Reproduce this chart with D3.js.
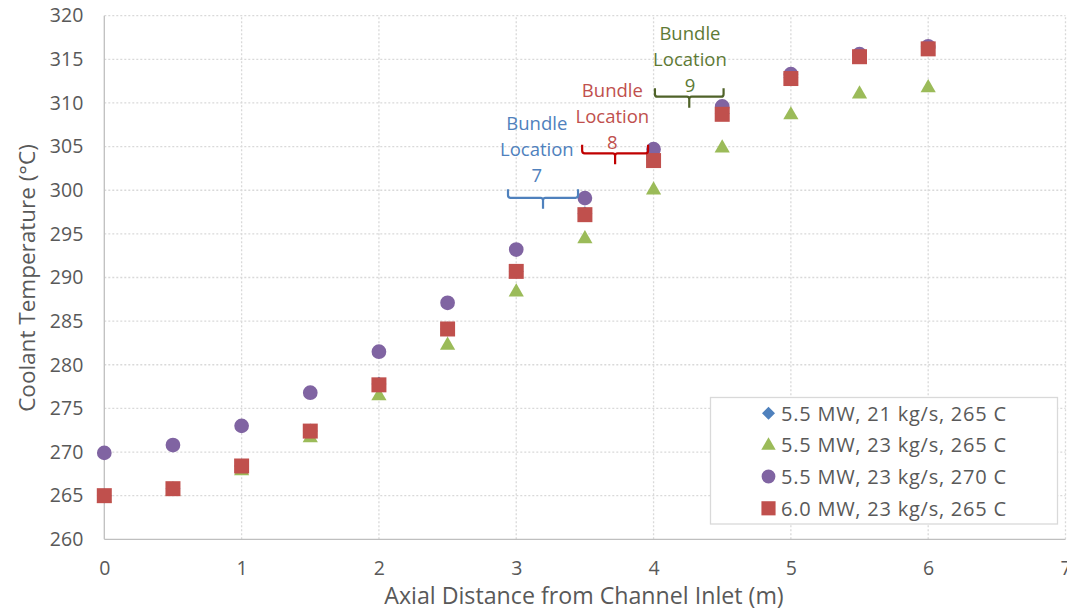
<!DOCTYPE html>
<html>
<head>
<meta charset="utf-8">
<script src="https://cdn.jsdelivr.net/npm/d3@7"></script>
<style>
  html, body { margin: 0; padding: 0; background: #fff; }
  svg { display: block; }
  text { font-family: "Open Sans", Lato, sans-serif; }
</style>
</head>
<body>
<svg id="chart" width="1067" height="611"></svg>
<script>
// Axial positions along the fuel channel (m)
const distance = [0, 0.5, 1, 1.5, 2, 2.5, 3, 3.5, 4, 4.5, 5, 5.5, 6];

// Coolant temperature (°C) for each operating case
const case21kg265 = [265.0, 265.8, 268.4, 272.4, 277.8, 284.1, 290.7, 297.3, 303.5, 308.8, 312.9, 315.4, 316.3];
const case23kg265 = [264.9, 265.7, 268.0, 271.8, 276.6, 282.4, 288.5, 294.6, 300.2, 305.0, 308.8, 311.2, 311.9];
const case23kg270 = [269.9, 270.8, 273.0, 276.8, 281.5, 287.1, 293.2, 299.1, 304.7, 309.6, 313.3, 315.6, 316.5];
const case60MW = [265.0, 265.8, 268.4, 272.4, 277.7, 284.1, 290.7, 297.2, 303.4, 308.7, 312.8, 315.3, 316.2];

const seriesNames = [
  "5.5 MW, 21 kg/s, 265 C",
  "5.5 MW, 23 kg/s, 265 C",
  "5.5 MW, 23 kg/s, 270 C",
  "6.0 MW, 23 kg/s, 265 C"
];
const seriesColors = ["#4F81BD", "#9BBB59", "#8064A2", "#C0504D"];
const seriesShapes = ["diamond", "triangle", "circle", "square"];

// Axis ticks
const xTicks = [0, 1, 2, 3, 4, 5, 6, 7];
const yTicks = [260, 265, 270, 275, 280, 285, 290, 295, 300, 305, 310, 315, 320];

// Fuel bundle annotations: brace span along the channel, brace height, label position
const bundleLabels = ["7", "8", "9"];
const bundleStart = [2.94, 3.48, 4.01];
const bundleEnd = [3.45, 3.96, 4.51];
const bundleLevel = [300.1, 305.2, 311.7];
const bundleLabelX = [3.15, 3.70, 4.265];
const bundleLabelY = [307.7, 311.4, 318.0];
const bundleColors = ["#4F81BD", "#C00000", "#4F6228"];
const bundleTextColors = ["#4F81BD", "#C0504D", "#5E7A35"];

const svg = d3.select("#chart");
const W = 1067, H = 611;
const margin = { left: 104.3, right: W - 1065.5, top: 15.7, bottom: H - 539.3 };

const x = d3.scaleLinear().domain([0, 7]).range([margin.left, W - margin.right]);
const y = d3.scaleLinear().domain([260, 320]).range([H - margin.bottom, margin.top]);

// Dotted gridlines
const grid = svg.append("g");
grid.selectAll("line.h").data(yTicks.filter(d => d > 260)).join("line")
  .attr("x1", x(0)).attr("x2", x(7))
  .attr("y1", d => y(d)).attr("y2", d => y(d))
  .attr("stroke", "#D9D9D9").attr("stroke-width", 1.3).attr("stroke-dasharray", "2,2");
grid.selectAll("line.v").data(xTicks.filter(d => d > 0)).join("line")
  .attr("y1", y(260)).attr("y2", y(320))
  .attr("x1", d => x(d)).attr("x2", d => x(d))
  .attr("stroke", "#D9D9D9").attr("stroke-width", 1.3).attr("stroke-dasharray", "2,2");

// Axes
const xAxis = d3.axisBottom(x).tickValues(xTicks).tickSize(0).tickPadding(22).tickFormat(d3.format("d"));
const yAxis = d3.axisLeft(y).tickValues(yTicks).tickSize(0).tickPadding(21).tickFormat(d3.format("d"));

const gx = svg.append("g").attr("transform", `translate(0,${y(260)})`).call(xAxis);
const gy = svg.append("g").attr("transform", `translate(${x(0)},0)`).call(yAxis);
[gx, gy].forEach(g => {
  g.select(".domain").attr("stroke", "#BFBFBF").attr("stroke-width", 1.3);
  g.selectAll("text").attr("fill", "#595959").style("font-size", "19.5px")
    .style("font-family", "'Open Sans', sans-serif");
});
gx.select(".domain").attr("d", `M${x(0)},0H${x(7)}`);
gy.select(".domain").attr("d", `M0,${y(260)}V${y(320)}`);

// Axis titles
svg.append("text")
  .attr("x", 584).attr("y", 604)
  .attr("text-anchor", "middle").attr("fill", "#595959").style("font-size", "23.2px")
  .text("Axial Distance from Channel Inlet (m)");
svg.append("text")
  .attr("transform", "translate(35,278) rotate(-90)")
  .attr("text-anchor", "middle").attr("fill", "#595959").style("font-size", "22.5px")
  .text("Coolant Temperature (°C)");

// Marker shapes; the diamond is a square turned 45° so it shares the square's footprint
const shapeType = {
  diamond: d3.symbolSquare,
  triangle: d3.symbolTriangle,
  circle: d3.symbolCircle,
  square: d3.symbolSquare
};
const shapeRotate = { diamond: 45, triangle: 0, circle: 0, square: 0 };
const shapeShift = { diamond: 0, triangle: 1.5, circle: 0, square: 0 };
const plotSize = { diamond: 112, triangle: 100, circle: 170, square: 225 };
const legendSize = { diamond: 85, triangle: 90, circle: 150, square: 200 };

const seriesValues = [case21kg265, case23kg265, case23kg270, case60MW];
const pts = svg.append("g");
seriesValues.forEach((vals, i) => {
  const s = seriesShapes[i];
  pts.append("g").selectAll("path").data(distance).join("path")
    .attr("transform", (d, j) => `translate(${x(d)},${y(vals[j]) + shapeShift[s]}) rotate(${shapeRotate[s]})`)
    .attr("d", d3.symbol().type(shapeType[s]).size(plotSize[s])())
    .attr("fill", seriesColors[i]);
});

// Bundle braces and labels
const ann = svg.append("g");
bundleLabels.forEach((lab, i) => {
  const x0 = x(bundleStart[i]), x1 = x(bundleEnd[i]);
  const yt = y(bundleLevel[i]);
  const yb = yt + 8.5;
  const xm = (x0 + x1) / 2;
  const r = 2.5;
  const path = `M${x0},${yt} V${yb - r} Q${x0},${yb} ${x0 + r},${yb} H${xm - r} Q${xm},${yb} ${xm},${yb + r} V${yb + 11}`
    + ` M${xm},${yb + r} Q${xm},${yb} ${xm + r},${yb} H${x1 - r} Q${x1},${yb} ${x1},${yb - r} V${yt}`;
  ann.append("path").attr("d", path).attr("fill", "none")
    .attr("stroke", bundleColors[i]).attr("stroke-width", 2.2);
  const lines = ["Bundle", "Location", lab];
  const tx = x(bundleLabelX[i]);
  ann.append("text")
    .attr("x", tx).attr("y", y(bundleLabelY[i]) + 6.5)
    .attr("text-anchor", "middle").attr("fill", bundleTextColors[i]).style("font-size", "18.5px")
    .selectAll("tspan").data(lines).join("tspan")
    .attr("x", tx).attr("dy", (d, k) => k === 0 ? 0 : 26)
    .text(d => d);
});

// Legend
const legend = svg.append("g");
legend.append("rect")
  .attr("x", 710.5).attr("y", 397.5).attr("width", 347).attr("height", 126.5)
  .attr("fill", "#fff").attr("stroke", "#D9D9D9").attr("stroke-width", 1.3);
const rowY = [413.3, 444.5, 476.5, 508.3];
seriesNames.forEach((name, i) => {
  const s = seriesShapes[i];
  legend.append("path")
    .attr("transform", `translate(768.5,${rowY[i] + (s === "triangle" ? 1 : 0)}) rotate(${shapeRotate[s]})`)
    .attr("d", d3.symbol().type(shapeType[s]).size(legendSize[s])())
    .attr("fill", seriesColors[i]);
  legend.append("text")
    .attr("x", 781).attr("y", rowY[i]).attr("dy", "0.36em")
    .attr("fill", "#595959").style("font-size", "20px")
    .attr("textLength", 225).attr("lengthAdjust", "spacing")
    .text(name);
});
</script>
</body>
</html>
